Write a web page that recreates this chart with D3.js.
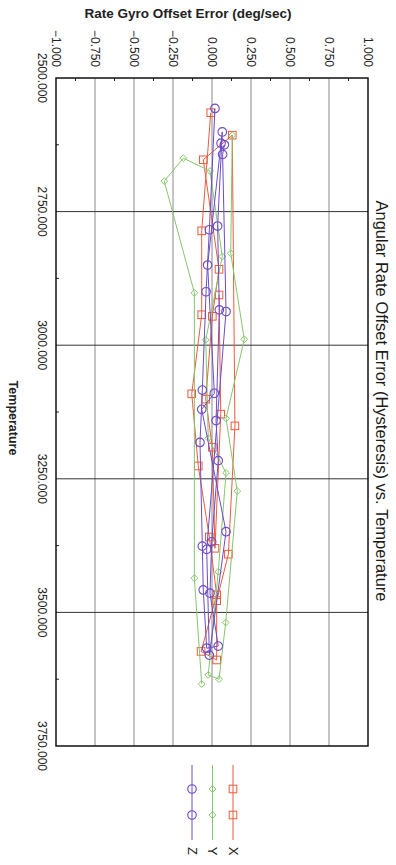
<!DOCTYPE html>
<html>
<head>
<meta charset="utf-8">
<script src="https://cdn.jsdelivr.net/npm/d3@7"></script>
<style>
  html, body { margin: 0; padding: 0; background: #fff; }
  svg { display: block; font-family: "Liberation Sans", Arial, sans-serif; }
</style>
</head>
<body>
<svg id="chart" width="396" height="865"></svg>
<script>
// Axis ticks
const errTicks = [-1, -0.75, -0.5, -0.25, 0, 0.25, 0.5, 0.75, 1];
const tempTicks = [2500, 2750, 3000, 3250, 3500, 3750];

// Series in test order: temperature and rate gyro offset error (deg/sec)
const xTemp = [2565, 2786, 2943, 3091, 3226, 3359, 3467, 3573, 3589, 3478, 3391, 3151, 2607, 2653, 2858, 2946, 3101, 3191, 3380, 3129, 2906];
const xErr  = [-0.008, -0.066, -0.066, -0.13, -0.088, -0.017, 0.03, -0.07, 0.03, 0.03, 0.105, 0.147, 0.13, -0.056, 0.045, 0.002, -0.04, 0.002, 0.019, 0.056, 0.045];

const yTemp = [2607, 2828, 2989, 3137, 3273, 3519, 3625, 3617, 3424, 3239, 3174, 2990, 2834, 2674, 2650, 2693, 2902, 3436, 3634];
const yErr  = [0.13, 0.12, 0.207, 0.09, 0.162, 0.088, 0.045, -0.024, 0.04, 0.09, -0.024, -0.04, 0.066, -0.013, -0.184, -0.306, -0.113, -0.113, -0.066];

const zTemp = [2557, 2784, 2900, 3084, 3182, 3376, 3458, 3567, 3563, 3464, 3368, 3216, 3141, 2934, 2777, 2601, 2622, 2850, 3090, 3120, 3349, 3580, 3382, 2937, 2643, 2625];
const zErr  = [0.019, -0.017, -0.038, -0.062, -0.077, -0.062, -0.056, -0.034, 0.04, -0.013, -0.002, 0.04, 0.026, 0.047, 0.036, 0.066, 0.058, -0.028, 0.015, -0.066, 0.09, -0.017, -0.034, 0.09, 0.068, 0.079];

const seriesNames = ["X", "Y", "Z"];
const seriesColors = ["#ee5a3c", "#86c66c", "#6c4cc6"];
const seriesShapes = ["square", "diamond", "circle"];

const series = [
  { name: seriesNames[0], color: seriesColors[0], shape: seriesShapes[0], pts: xTemp.map((t, i) => ({ t, v: xErr[i] })) },
  { name: seriesNames[1], color: seriesColors[1], shape: seriesShapes[1], pts: yTemp.map((t, i) => ({ t, v: yErr[i] })) },
  { name: seriesNames[2], color: seriesColors[2], shape: seriesShapes[2], pts: zTemp.map((t, i) => ({ t, v: zErr[i] })) }
];

const svg = d3.select("#chart");

// The chart is laid out turned a quarter turn: error runs left to right, temperature top to bottom.
const plot = { left: 56, right: 368, top: 78, bottom: 746 };
const xs = d3.scaleLinear().domain([-1, 1]).range([plot.left, plot.right]);
const ys = d3.scaleLinear().domain([2500, 3750]).range([plot.top, plot.bottom]);

// Grid lines
svg.append("g").selectAll("line")
  .data(errTicks.slice(1, -1))
  .join("line")
  .attr("x1", d => xs(d)).attr("x2", d => xs(d))
  .attr("y1", plot.top).attr("y2", plot.bottom)
  .attr("stroke", "#8a8a8a").attr("stroke-width", 1);

svg.append("g").selectAll("line")
  .data(tempTicks.slice(1, -1))
  .join("line")
  .attr("x1", plot.left).attr("x2", plot.right)
  .attr("y1", d => ys(d)).attr("y2", d => ys(d))
  .attr("stroke", "#333").attr("stroke-width", 1);

// Minor ticks along the top and left edges
const errMinor = d3.range(0, errTicks.length - 1).map(i => (errTicks[i] + errTicks[i + 1]) / 2);
const tempMinor = d3.range(0, tempTicks.length - 1).map(i => (tempTicks[i] + tempTicks[i + 1]) / 2);
svg.append("g").selectAll("line")
  .data(errMinor)
  .join("line")
  .attr("x1", d => xs(d)).attr("x2", d => xs(d))
  .attr("y1", plot.top).attr("y2", plot.top + 3)
  .attr("stroke", "#222").attr("stroke-width", 1);
svg.append("g").selectAll("line")
  .data(tempMinor)
  .join("line")
  .attr("x1", plot.left).attr("x2", plot.left + 3)
  .attr("y1", d => ys(d)).attr("y2", d => ys(d))
  .attr("stroke", "#222").attr("stroke-width", 1);

// Frame
svg.append("rect")
  .attr("x", plot.left).attr("y", plot.top)
  .attr("width", plot.right - plot.left).attr("height", plot.bottom - plot.top)
  .attr("fill", "none").attr("stroke", "#111").attr("stroke-width", 1.5);

// Tick labels
svg.append("g").selectAll("text")
  .data(errTicks)
  .join("text")
  .attr("transform", d => `translate(${xs(d)},67) rotate(90)`)
  .attr("text-anchor", "end")
  .attr("dominant-baseline", "central")
  .attr("font-size", 12)
  .attr("fill", "#222")
  .text(d => d3.format(".3f")(d));

svg.append("g").selectAll("text")
  .data(tempTicks)
  .join("text")
  .attr("transform", d => `translate(42,${ys(d)}) rotate(90)`)
  .attr("text-anchor", "middle")
  .attr("dominant-baseline", "central")
  .attr("font-size", 12)
  .attr("fill", "#222")
  .text(d => d3.format(".3f")(d));

// Axis titles and chart title
svg.append("text")
  .attr("x", 188).attr("y", 13)
  .attr("text-anchor", "middle").attr("dominant-baseline", "central")
  .attr("font-size", 13.5).attr("font-weight", "bold").attr("fill", "#222")
  .text("Rate Gyro Offset Error (deg/sec)");

svg.append("text")
  .attr("transform", "translate(13,418) rotate(90)")
  .attr("text-anchor", "middle").attr("dominant-baseline", "central")
  .attr("font-size", 12.5).attr("font-weight", "bold").attr("fill", "#222")
  .text("Temperature");

svg.append("text")
  .attr("transform", "translate(382,401) rotate(90)")
  .attr("text-anchor", "middle").attr("dominant-baseline", "central")
  .attr("font-size", 16.5).attr("fill", "#1a1a1a")
  .text("Angular Rate Offset Error (Hysteresis) vs. Temperature");

// Marker drawing
function drawMarker(sel, shape, color) {
  if (shape === "square") {
    sel.append("rect").attr("x", -3.8).attr("y", -3.8).attr("width", 7.6).attr("height", 7.6)
      .attr("fill", "none").attr("stroke", color).attr("stroke-width", 1);
  } else if (shape === "diamond") {
    sel.append("path").attr("d", "M0,-3.4L3.4,0L0,3.4L-3.4,0Z")
      .attr("fill", "none").attr("stroke", color).attr("stroke-width", 1);
  } else {
    sel.append("circle").attr("r", 4.3)
      .attr("fill", "none").attr("stroke", color).attr("stroke-width", 1.1);
  }
}

// Series lines and markers
const line = d3.line().x(d => xs(d.v)).y(d => ys(d.t));
series.forEach(s => {
  const g = svg.append("g");
  g.append("path")
    .attr("d", line(s.pts))
    .attr("fill", "none").attr("stroke", s.color).attr("stroke-width", 1);
  g.selectAll("g.m")
    .data(s.pts)
    .join("g").attr("class", "m")
    .attr("transform", d => `translate(${xs(d.v)},${ys(d.t)})`)
    .each(function () { drawMarker(d3.select(this), s.shape, s.color); });
});

// Legend: one vertical swatch per series, label below
const legendX = d3.scalePoint().domain(["Z", "Y", "X"]).range([192, 233]);
series.forEach(s => {
  const g = svg.append("g").attr("transform", `translate(${legendX(s.name)},0)`);
  g.append("line").attr("x1", 0).attr("x2", 0).attr("y1", 765).attr("y2", 840)
    .attr("stroke", s.color).attr("stroke-width", 1);
  [789, 815].forEach(y => {
    const m = g.append("g").attr("transform", `translate(0,${y})`);
    drawMarker(m, s.shape, s.color);
  });
  g.append("text")
    .attr("transform", "translate(0,851) rotate(90)")
    .attr("text-anchor", "middle").attr("dominant-baseline", "central")
    .attr("font-size", 13).attr("fill", "#222")
    .text(s.name);
});
</script>
</body>
</html>
